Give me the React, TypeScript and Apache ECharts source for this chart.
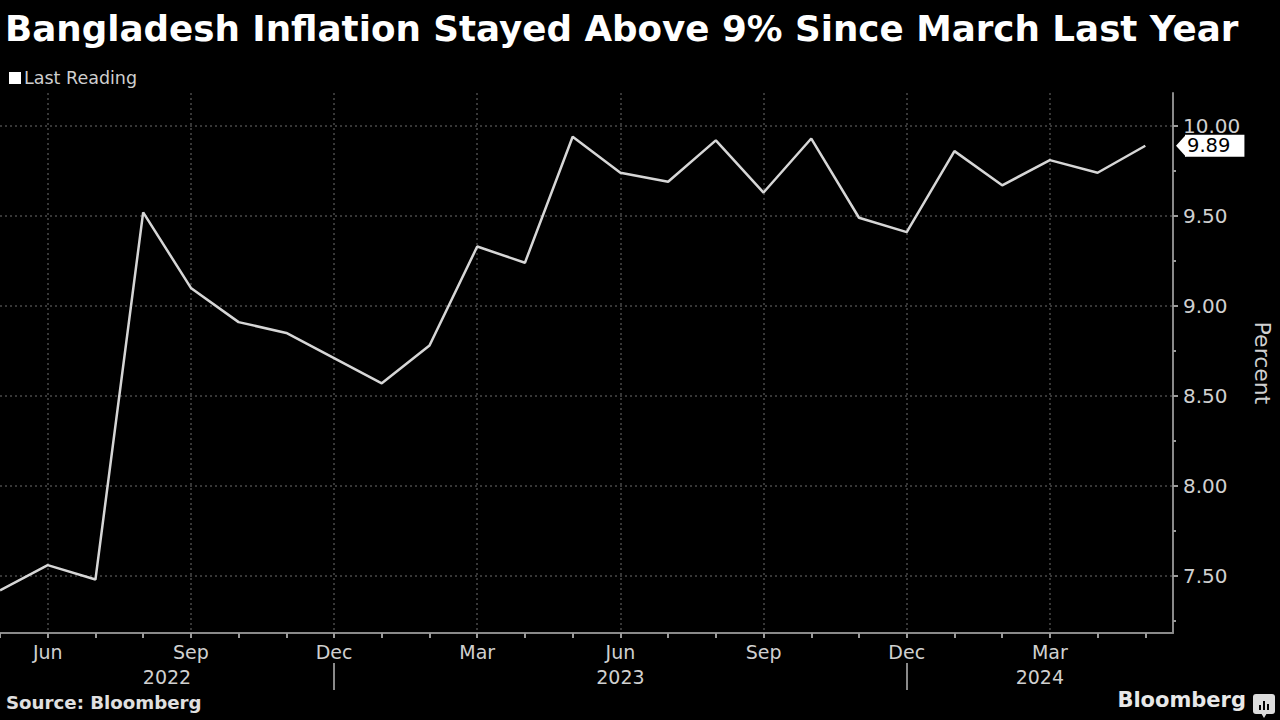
import React, { useEffect, useRef } from "react";
import * as echarts from "echarts";

const months = [
  "2022-05", "2022-06", "2022-07", "2022-08", "2022-09", "2022-10", "2022-11", "2022-12",
  "2023-01", "2023-02", "2023-03", "2023-04", "2023-05", "2023-06", "2023-07", "2023-08",
  "2023-09", "2023-10", "2023-11", "2023-12", "2024-01", "2024-02", "2024-03", "2024-04", "2024-05",
];
const inflation = [
  7.42, 7.56, 7.48, 9.52, 9.10, 8.91, 8.85, 8.71,
  8.57, 8.78, 9.33, 9.24, 9.94, 9.74, 9.69, 9.92,
  9.63, 9.93, 9.49, 9.41, 9.86, 9.67, 9.81, 9.74, 9.89,
];
const monthNames = ["Jan", "Feb", "Mar", "Apr", "May", "Jun", "Jul", "Aug", "Sep", "Oct", "Nov", "Dec"];
const labelMonths = ["2022-06", "2022-09", "2022-12", "2023-03", "2023-06", "2023-09", "2023-12", "2024-03"];
const yearSeparators = ["2022-12", "2023-12"];
const years = ["2022", "2023", "2024"];
const yTicks = [7.5, 8.0, 8.5, 9.0, 9.5, 10.0];
const yMinorTicks = [7.25, 7.75, 8.25, 8.75, 9.25, 9.75];

const X_MIN = 0;
const X_MAX = 24.58;
const Y_MIN = 7.183;
const Y_MAX = 10.183;

const GRID = { left: 0, top: 93, width: 1173, height: 540 };
const FONT = "DejaVu Sans";

export default function App() {
  const ref = useRef<HTMLDivElement>(null);

  useEffect(() => {
    if (!ref.current) return;
    const chart = echarts.init(ref.current, undefined, { renderer: "svg" });

    const idx = (m: string) => months.indexOf(m);
    const data = inflation.map((v, i) => [i, v]);
    const labelIdx = labelMonths.map(idx);
    const sepIdx = yearSeparators.map(idx);
    const bounds = [X_MIN, ...sepIdx, X_MAX];
    const yearPos = years.map((_, i) => (bounds[i] + bounds[i + 1]) / 2);
    const last = inflation[inflation.length - 1];

    const tickStyle = { color: "#9a9a9a", width: 2 };

    chart.setOption({
      animation: false,
      backgroundColor: "#000",
      title: {
        text: "Bangladesh Inflation Stayed Above 9% Since March Last Year",
        left: 0,
        top: 5,
        textStyle: { color: "#ffffff", fontSize: 35.7, fontWeight: "bold", fontFamily: FONT },
      },
      legend: {
        left: 4,
        top: 64,
        icon: "rect",
        itemWidth: 12,
        itemHeight: 12,
        itemGap: 4,
        data: ["Last Reading"],
        textStyle: { color: "#cfcfcf", fontSize: 17.5, fontFamily: FONT, padding: [0, 0, 0, -2] },
      },
      grid: { ...GRID, containLabel: false, outerBoundsMode: "none" },
      xAxis: [
        {
          type: "value",
          min: X_MIN,
          max: X_MAX,
          position: "bottom",
          axisLine: { show: true, onZero: false, lineStyle: { color: "#8a8a8a", width: 2 } },
          axisTick: { show: true, length: 5, customValues: labelIdx, lineStyle: tickStyle },
          axisLabel: {
            customValues: labelIdx,
            color: "#d0d0d0",
            fontSize: 19,
            fontFamily: FONT,
            margin: 9,
            formatter: (v: number) => monthNames[Number(months[Math.round(v)].slice(5)) - 1],
          },
          splitLine: { show: true, lineStyle: { color: "#4a4a4a", type: [2, 3], width: 1.5 } },
        },
        {
          type: "value",
          min: X_MIN,
          max: X_MAX,
          position: "bottom",
          axisLine: { show: false, onZero: false },
          axisTick: { show: true, length: 5, customValues: months.map((_, i) => i), lineStyle: tickStyle },
          axisLabel: { show: false },
          splitLine: { show: false },
        },
        {
          type: "value",
          min: X_MIN,
          max: X_MAX,
          position: "bottom",
          offset: 30,
          axisLine: { show: false, onZero: false },
          axisTick: { show: true, length: 27, customValues: sepIdx, lineStyle: { color: "#8a8a8a", width: 2 } },
          axisLabel: {
            customValues: yearPos,
            color: "#d0d0d0",
            fontSize: 19,
            fontFamily: FONT,
            margin: 4,
            formatter: (v: number) => years[yearPos.findIndex((p) => Math.abs(p - v) < 1e-6)] ?? "",
          },
          splitLine: { show: false },
        },
      ],
      yAxis: [
        {
          type: "value",
          min: Y_MIN,
          max: Y_MAX,
          position: "right",
          name: "Percent",
          nameLocation: "middle",
          nameRotate: -90,
          nameGap: 78,
          nameTextStyle: { color: "#d0d0d0", fontSize: 22, fontFamily: FONT },
          axisLine: { show: true, onZero: false, lineStyle: { color: "#8a8a8a", width: 2 } },
          axisTick: { show: true, length: 5, customValues: yTicks, lineStyle: tickStyle },
          axisLabel: {
            customValues: yTicks,
            color: "#d0d0d0",
            fontSize: 20,
            fontFamily: FONT,
            margin: 10,
            formatter: (v: number) => v.toFixed(2),
          },
          splitLine: { show: true, lineStyle: { color: "#4a4a4a", type: [2, 3], width: 1.5 } },
        },
        {
          type: "value",
          min: Y_MIN,
          max: Y_MAX,
          position: "right",
          offset: 0,
          axisLine: { show: false, onZero: false },
          axisTick: { show: true, length: 3, customValues: yMinorTicks, lineStyle: tickStyle },
          axisLabel: {
            customValues: [last],
            color: "#000",
            backgroundColor: "#ffffff",
            padding: [1, 14, 1, 2],
            fontSize: 19.5,
            fontFamily: FONT,
            margin: 12,
            formatter: (v: number) => v.toFixed(2),
          },
          splitLine: { show: false },
        },
      ],
      series: [
        {
          name: "Last Reading",
          type: "line",
          data,
          showSymbol: false,
          symbol: "none",
          itemStyle: { color: "#ffffff" },
          lineStyle: { color: "#d6d6d6", width: 2.5 },
          z: 5,
        },
      ],
    });

    const py = chart.convertToPixel({ yAxisIndex: 0 }, last) as number;
    const ax = GRID.left + GRID.width;

    chart.setOption({
      graphic: [
        {
          type: "polygon",
          shape: { points: [[ax + 3, py], [ax + 13, py - 11], [ax + 13, py + 11]] },
          style: { fill: "#ffffff" },
          z: 10,
        },
        {
          type: "text",
          left: 6,
          top: 693,
          style: { text: "Source: Bloomberg", fill: "#e0e0e0", font: `bold 18.2px "${FONT}"` },
        },
        {
          type: "text",
          right: 34,
          top: 689,
          style: { text: "Bloomberg", fill: "#e8e8e8", font: `bold 21px "${FONT}"` },
        },
        {
          type: "group",
          right: 5,
          top: 694,
          children: [
            { type: "rect", shape: { x: 0, y: 0, width: 22, height: 20, r: 3 }, style: { fill: "#dcdcdc" } },
            { type: "polygon", shape: { points: [[8, 19], [14, 19], [11, 24]] }, style: { fill: "#dcdcdc" } },
            { type: "rect", shape: { x: 6, y: 11, width: 2, height: 5 }, style: { fill: "#000" } },
            { type: "rect", shape: { x: 10, y: 7, width: 2, height: 9 }, style: { fill: "#000" } },
            { type: "rect", shape: { x: 14, y: 10, width: 2, height: 6 }, style: { fill: "#000" } },
          ],
        },
      ],
    });

    return () => chart.dispose();
  }, []);

  return (
    <div
      ref={ref}
      style={{ position: "fixed", left: 0, top: 0, width: 1280, height: 720, background: "#000" }}
    />
  );
}
